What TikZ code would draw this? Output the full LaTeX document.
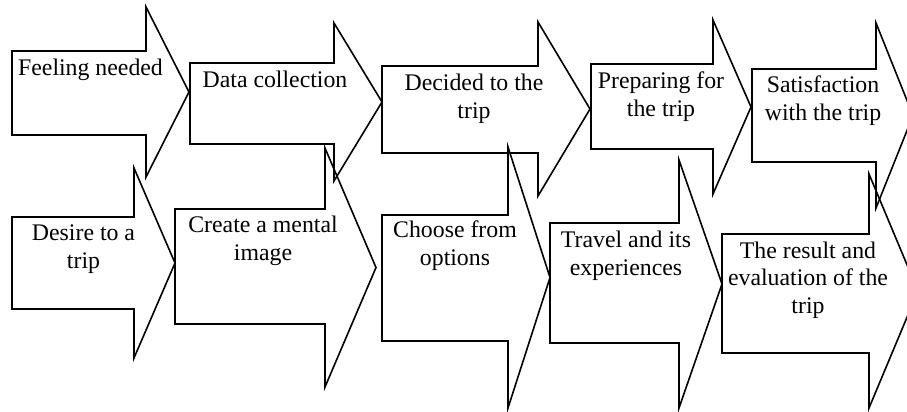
\documentclass[tikz,border=0pt]{standalone}
\usepackage{fontspec}
\setmainfont{Liberation Serif}
\newcommand{\blockarr}[7]{%
  \draw[arrowline] (#1,#2) -- (#4,#2) -- (#4,#5) -- (#7,{(#5+#6)/2}) -- (#4,#6) -- (#4,#3) -- (#1,#3) -- cycle;}
\begin{document}
\begin{tikzpicture}[x=1pt,y=-1pt,
  arrowline/.style={draw=black,line width=1.6pt,line join=miter},
  lbl/.style={inner sep=0pt,anchor=base,align=center,font=\fontsize{23.8}{27.5}\selectfont}]
\useasboundingbox (0,0) rectangle (907,412);
\clip (0,0) rectangle (907,412);
% row 1
\blockarr{12}{51}{135}{146}{7}{177}{189}
\blockarr{190}{63}{144}{334}{23}{181}{382}
\blockarr{382}{66}{153}{538}{22}{196}{590}
\blockarr{591}{64}{149}{713}{20}{194}{751}
\blockarr{752}{69}{162}{876}{23}{208}{913}
% row 2
\blockarr{12}{217}{309}{134}{168}{358}{175}
\blockarr{175}{209}{324}{325}{148}{387}{376}
\blockarr{382}{215}{341}{508}{147}{408}{550}
\blockarr{550}{223}{343}{679}{160}{408}{722}
\blockarr{722}{234}{353}{869}{174}{408}{918}
% labels (anchor = baseline of last line)
\node[lbl] (t1) at (90.5,75) {Feeling needed};
\node[lbl] (t2) at (275,87) {Data collection};
\node[lbl] (t3) at (474,118) {Decided to the\\trip};
\node[lbl] (t4) at (661,116) {Preparing for\\the trip};
\node[lbl] (t5) at (823,120) {Satisfaction\\with the trip};
\node[lbl] (t6) at (83.5,268) {Desire to a\\trip};
\node[lbl] (t7) at (263,260) {Create a mental\\image};
\node[lbl] (t8) at (455,265) {Choose from\\options};
\node[lbl] (t9) at (626,275) {Travel and its\\experiences};
\node[lbl] (t10) at (808,313) {The result and\\evaluation of the\\trip};
\end{tikzpicture}
\end{document}
